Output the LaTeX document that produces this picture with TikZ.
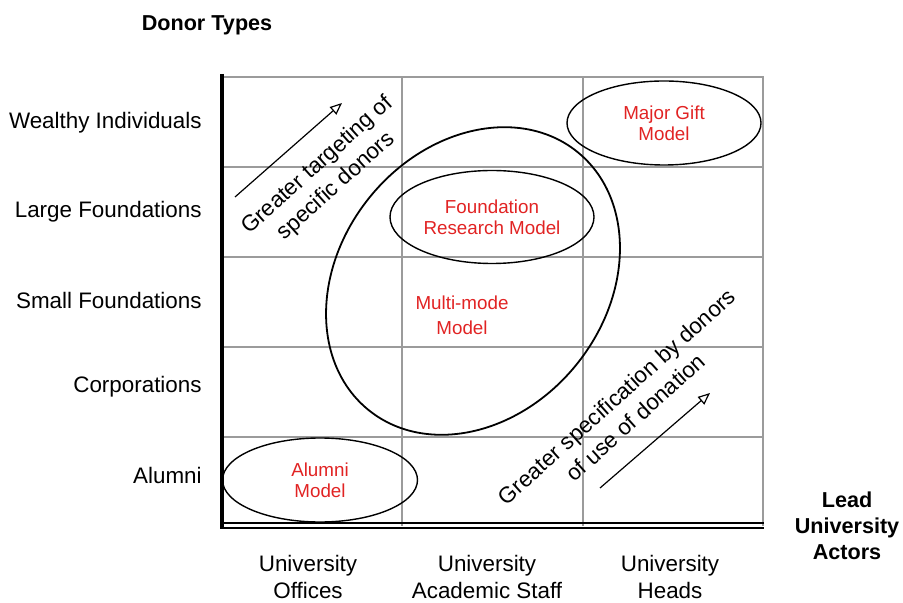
\documentclass[tikz,border=0pt]{standalone}
\usepackage{fontspec}
\setmainfont{Liberation Sans}
\usepackage{tikz}
\usetikzlibrary{shapes.geometric,arrows.meta,calc}
\definecolor{modelred}{RGB}{225,35,35}
\definecolor{gridgray}{RGB}{155,155,155}

\begin{document}
\begin{tikzpicture}[x=0.5pt,y=-0.5pt]
\tikzset{gridline/.style = {draw=gridgray, line width=0.9pt},
  axis/.style = {draw=black, line width=1pt},
  rowlabel/.style = {anchor=east, inner sep=0pt, font=\fontsize{11.2}{13.5}\selectfont},
  collabel/.style = {align=center, inner sep=0pt, font=\fontsize{11.2}{13.5}\selectfont},
  model/.style = {draw, ellipse, line width=0.7pt, inner sep=0pt, align=center, text=modelred, font=\fontsize{9.4}{10.5}\selectfont},
  trend/.style = {rotate=42, align=center, inner sep=0pt, font=\fontsize{11.2}{14}\selectfont},
  trendarrow/.style = {draw, line width=0.6pt, -{Triangle[open,length=6pt,width=5pt]}},
  heading/.style = {align=center, inner sep=0pt, font=\bfseries\fontsize{10.8}{13}\selectfont}}
\useasboundingbox (0,0) rectangle (903,603);
\def\ytop{77}
\def\ybot{526}
\coordinate (NW) at (222,\ytop);
\coordinate (NE) at (763,\ytop);
\coordinate (SE) at (763,\ybot);
\draw[gridline] (NW) -- (NE) -- (SE);
\draw[gridline] (402,\ytop) -- (402,\ybot);
\draw[gridline] (583,\ytop) -- (583,\ybot);
\draw[gridline] (222,167) -- (763,167);
\draw[gridline] (222,257) -- (763,257);
\draw[gridline] (222,347) -- (763,347);
\draw[gridline] (222,437) -- (763,437);
\draw[axis, line width=2pt] (222,74) -- (222,529);
\draw[axis] (222,523) -- (764,523);
\draw[axis] (222,527.5) -- (764,527.5);

\node[rowlabel] (wealthy) at (202,123) {Wealthy Individuals};
\node[rowlabel] (large) at (202,212) {Large Foundations};
\node[rowlabel] (small) at (202,300) {Small Foundations};
\node[rowlabel] (corp) at (202,387) {Corporations};
\node[rowlabel] (alumni) at (202,475) {Alumni};

\node[collabel] (offices) at (308,577) {University\\Offices};
\node[collabel] (staff) at (487,577) {University\\Academic Staff};
\node[collabel] (heads) at (670,577) {University\\Heads};

\node[heading] (donortypes) at (207,25) {Donor Types};
\node[heading] (actors) at (847,526) {Lead\\University\\Actors};

\node[draw, ellipse, rotate=51, line width=0.9pt, minimum width=166pt, minimum height=133pt] (multimode) at (473,281) {};
\node[align=center, inner sep=0pt, text=modelred, font=\fontsize{9.4}{12.5}\selectfont] (multitext) at (462,315) {Multi-mode\\Model};
\node[model, minimum width=97pt, minimum height=42pt] (majorgift) at (664,123) {Major Gift\\Model};
\node[model, minimum width=102pt, minimum height=46.5pt] (foundation) at (492,217) {Foundation\\Research Model};
\node[model, minimum width=97.5pt, minimum height=42pt] (alumnimodel) at (320,480) {Alumni\\Model};

\coordinate (tgtail) at (235,197);
\coordinate (tghead) at (342,103);
\draw[trendarrow] (tgtail) -- (tghead);
\node[trend] (targeting) at (327,176) {Greater targeting of\\specific donors};

\coordinate (sptail) at (600,488);
\coordinate (sphead) at (710,393);
\draw[trendarrow] (sptail) -- (sphead);
\node[trend] (specification) at (626,407) {Greater specification by donors\\of use of donation};
\end{tikzpicture}
\end{document}
